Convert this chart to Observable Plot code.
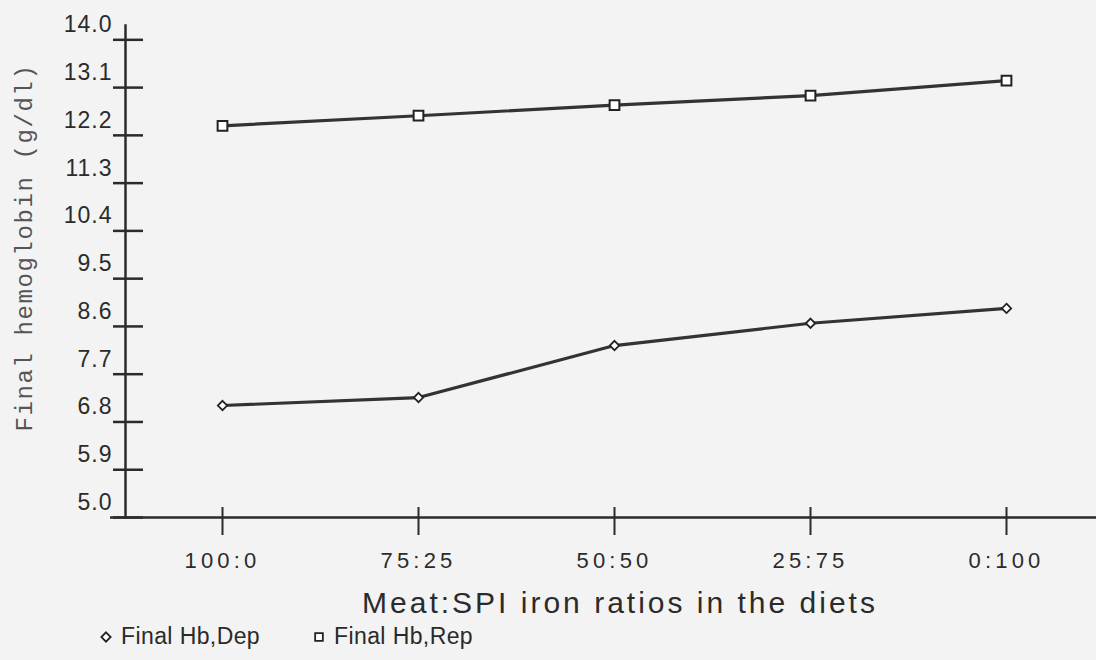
<!DOCTYPE html>
<html>
<head>
<meta charset="utf-8">
<script src="https://cdn.jsdelivr.net/npm/d3@7"></script>
<script src="https://cdn.jsdelivr.net/npm/@observablehq/plot@0.6"></script>
<style>
  html, body { margin: 0; padding: 0; background: #f3f3f3; }
  #chart svg { display: block; background: #f3f3f3; }
  g[aria-label="x-axis tick label"] text { letter-spacing: 4.2px; }
  g[aria-label="y-axis tick label"] text { letter-spacing: 1px; }
  #legend { position: relative; height: 38px; font-family: "Liberation Sans", Arial, sans-serif;
            font-size: 23px; color: #2a2a2a; letter-spacing: 0.4px; }
  #legend .item { position: absolute; top: 1px; display: flex; align-items: center; }
  #legend svg { margin-right: 7px; }
</style>
</head>
<body>
<div id="chart"></div>
<div id="legend"></div>
<script>
const ratios = ["100:0", "75:25", "50:50", "25:75", "0:100"];
const hbDep = [7.11, 7.26, 8.24, 8.66, 8.94];
const hbRep = [12.38, 12.57, 12.77, 12.95, 13.23];
const yTicks = [5.0, 5.9, 6.8, 7.7, 8.6, 9.5, 10.4, 11.3, 12.2, 13.1, 14.0];
const seriesNames = ["Final Hb,Dep", "Final Hb,Rep"];
const xTitle = "Meat:SPI iron ratios in the diets";
const yTitle = "Final hemoglobin (g/dl)";

const data = [
  ...ratios.map((r, i) => ({ratio: r, value: hbDep[i], series: seriesNames[0]})),
  ...ratios.map((r, i) => ({ratio: r, value: hbRep[i], series: seriesNames[1]}))
];
const dep = data.filter(d => d.series === seriesNames[0]);
const rep = data.filter(d => d.series === seriesNames[1]);

const ink = "#2b2b2b";
const sans = "'Liberation Sans', Arial, Helvetica, sans-serif";

const chart = Plot.plot({
  width: 1096,
  height: 622,
  marginLeft: 125,
  marginRight: 0,
  marginTop: 25,
  marginBottom: 105,
  style: {background: "#f3f3f3", color: ink, fontFamily: sans},
  x: {type: "point", domain: ratios, range: [221, 1006], padding: 0},
  y: {domain: [5, 14.27]},
  marks: [
    // axes lines
    Plot.frame({anchor: "left", stroke: ink, strokeWidth: 2.5}),
    Plot.ruleY([5], {stroke: ink, strokeWidth: 2.5, insetLeft: -15}),
    // y ticks (crossing the axis)
    Plot.axisY({ticks: yTicks, tickSize: 30, dx: 18, tickFormat: () => "", label: null,
                stroke: ink, strokeWidth: 2.5}),
    // y tick labels
    Plot.axisY({ticks: yTicks, tickSize: 0, tickPadding: 13, dy: -15, label: null,
                tickFormat: d => d.toFixed(1), fontSize: 23, fill: ink}),
    // x ticks (crossing the axis)
    Plot.axisX({tickSize: 28, dy: -10, tickFormat: () => "", label: null,
                stroke: ink, strokeWidth: 2}),
    // x tick labels
    Plot.axisX({tickSize: 0, tickPadding: 35, label: null, fontSize: 22, fill: ink}),
    // axis titles
    Plot.text([xTitle], {frameAnchor: "bottom", lineAnchor: "bottom", dy: 95, dx: 9,
                         fontSize: 30, fill: ink}),
    Plot.text([yTitle], {frameAnchor: "left", textAnchor: "middle", rotate: -90,
                         dx: -101, dy: -24, fontSize: 24, fill: "#555",
                         fontFamily: "'Liberation Mono', 'DejaVu Sans Mono', monospace"}),
    // series
    Plot.line(data, {x: "ratio", y: "value", z: "series", stroke: "#333", strokeWidth: 3.2}),
    Plot.dot(dep, {x: "ratio", y: "value", symbol: "diamond2", r: 4.2,
                   fill: "white", stroke: "#222", strokeWidth: 1.8}),
    Plot.dot(rep, {x: "ratio", y: "value", symbol: "square2", r: 6.2,
                   fill: "white", stroke: "#222", strokeWidth: 2})
  ]
});
document.getElementById("chart").appendChild(chart);

// letter spacing for the two axis titles
const titleSpacing = new Map([[xTitle, "3px"], [yTitle, "1.6px"]]);
d3.select(chart).selectAll("text")
  .filter(function() { return titleSpacing.has(this.textContent); })
  .style("letter-spacing", function() { return titleSpacing.get(this.textContent); });

// legend below the chart
const legend = d3.select("#legend");
const items = [
  {name: seriesNames[0], symbol: d3.symbolDiamond2, size: 55, left: 98},
  {name: seriesNames[1], symbol: d3.symbolSquare2, size: 75, left: 311}
];
for (const it of items) {
  const div = legend.append("div").attr("class", "item").style("left", it.left + "px");
  const s = div.append("svg").attr("width", 16).attr("height", 16);
  s.append("path").attr("transform", "translate(8,8)")
    .attr("d", d3.symbol(it.symbol, it.size)())
    .attr("fill", "white").attr("stroke", "#222").attr("stroke-width", 1.8);
  div.append("span").text(it.name);
}
</script>
</body>
</html>
